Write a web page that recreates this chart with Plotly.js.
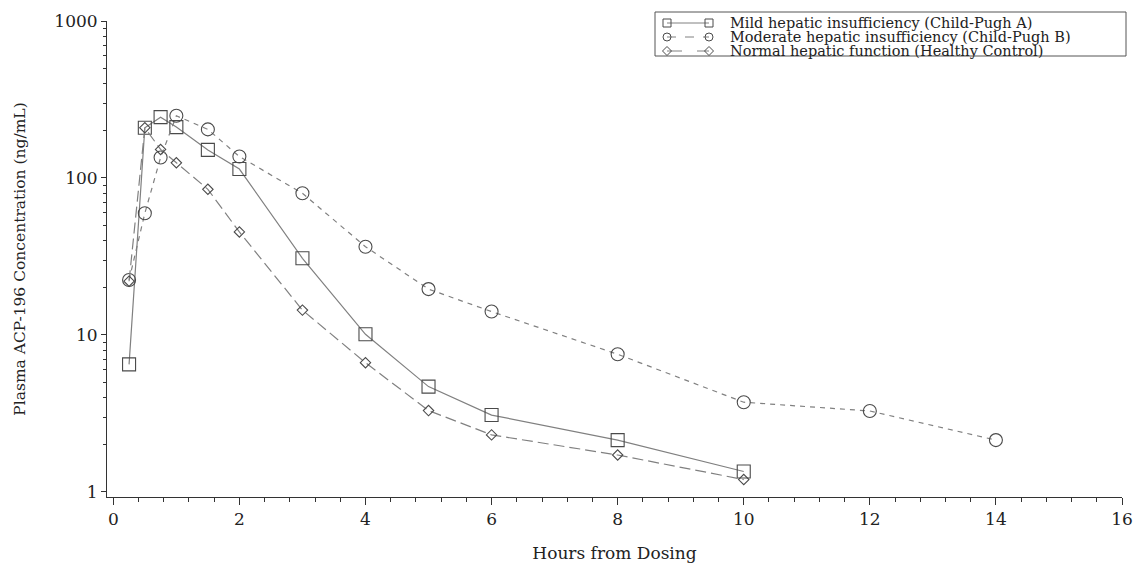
<!DOCTYPE html>
<html>
<head>
<meta charset="utf-8">
<script src="https://cdn.plot.ly/plotly-3.0.1.min.js"></script>
<style>html,body{margin:0;padding:0;background:#fff;}#chart{width:1133px;height:567px;}</style>
</head>
<body>
<div id="chart"></div>
<script>
// ---- data ----
const mildHours = [0.25, 0.5, 0.75, 1, 1.5, 2, 3, 4, 5, 6, 8, 10];
const mildConc = [6.5, 209, 244, 211, 151, 114, 30.8, 10.1, 4.69, 3.09, 2.14, 1.35];

const moderateHours = [0.25, 0.5, 0.75, 1, 1.5, 2, 3, 4, 5, 6, 8, 10, 12, 14];
const moderateConc = [22.4, 59.6, 135, 249, 204, 137, 79.9, 36.5, 19.6, 14.1, 7.54, 3.73, 3.28, 2.14];

const normalHours = [0.25, 0.5, 0.75, 1, 1.5, 2, 3, 4, 5, 6, 8, 10];
const normalConc = [22.0, 209, 152, 125, 84.7, 45.3, 14.4, 6.66, 3.30, 2.31, 1.72, 1.20];

const seriesNames = [
  'Mild hepatic insufficiency (Child-Pugh A)',
  'Moderate hepatic insufficiency (Child-Pugh B)',
  'Normal hepatic function (Healthy Control)'
];
const yTickVals = [1, 10, 100, 1000];
const yTickText = ['1', '10', '100', '1000'];
const yMinorVals = [2,3,4,5,6,7,8,9,20,30,40,50,60,70,80,90,200,300,400,500,600,700,800,900];
const xTitle = 'Hours from Dosing';
const yTitle = 'Plasma ACP-196 Concentration (ng/mL)';

// ---- layout constants ----
const FONT = 'DejaVu Serif';
const LINE_COL = '#808080';
const MARK_COL = '#4a4a4a';
const AX_COL = '#333333';
const M = {l: 107, r: 11, t: 21, b: 70};
const W = 1133 - M.l - M.r, H = 567 - M.t - M.b;
const px = v => (v - M.l) / W;
const py = v => (567 - M.b - v) / H;

const traces = [
  {x: mildHours, y: mildConc, name: seriesNames[0], type: 'scatter', mode: 'lines+markers',
   line: {color: LINE_COL, width: 1.2, dash: 'solid'},
   marker: {symbol: 'square-open', size: 13, color: MARK_COL, line: {width: 1.1, color: MARK_COL}}},
  {x: moderateHours, y: moderateConc, name: seriesNames[1], type: 'scatter', mode: 'lines+markers',
   line: {color: LINE_COL, width: 1.2, dash: '5px,5px'},
   marker: {symbol: 'circle-open', size: 13, color: MARK_COL, line: {width: 1.1, color: MARK_COL}}},
  {x: normalHours, y: normalConc, name: seriesNames[2], type: 'scatter', mode: 'lines+markers',
   line: {color: LINE_COL, width: 1.2, dash: '11px,5px'},
   marker: {symbol: 'diamond-open', size: 8, color: MARK_COL, line: {width: 1.1, color: MARK_COL}}}
];

// ---- custom legend (box, samples, text) ----
const legBox = {x0: 655, x1: 1126, y0: 12, y1: 56};
const rowY = [23, 37, 51];
const sampleX0 = 667, sampleX1 = 709, textX = 728;
const dashes = ['solid', 'dash', 'longdash'];
const shapes = [{type: 'rect', xref: 'paper', yref: 'paper', x0: px(legBox.x0), x1: px(legBox.x1),
  y0: py(legBox.y1), y1: py(legBox.y0), line: {color: '#555', width: 1}, fillcolor: 'rgba(255,255,255,1)', layer: 'above'}];
const annotations = [];
function sym(kind, cx, cy) {
  const r = 4;
  const base = {xref: 'paper', yref: 'paper', line: {color: MARK_COL, width: 1}, layer: 'above'};
  if (kind === 0) return Object.assign({type: 'rect', x0: px(cx - r), x1: px(cx + r), y0: py(cy + r), y1: py(cy - r)}, base);
  if (kind === 1) return Object.assign({type: 'circle', x0: px(cx - r), x1: px(cx + r), y0: py(cy + r), y1: py(cy - r)}, base);
  const d = 4.5;
  return Object.assign({type: 'path', path: `M ${px(cx - d)} ${py(cy)} L ${px(cx)} ${py(cy - d)} L ${px(cx + d)} ${py(cy)} L ${px(cx)} ${py(cy + d)} Z`}, base);
}
for (let i = 0; i < 3; i++) {
  shapes.push({type: 'line', xref: 'paper', yref: 'paper', x0: px(sampleX0), x1: px(sampleX1),
    y0: py(rowY[i]), y1: py(rowY[i]), line: {color: LINE_COL, width: 1, dash: dashes[i]}, layer: 'above'});
  shapes.push(sym(i, sampleX0, rowY[i]));
  shapes.push(sym(i, sampleX1, rowY[i]));
  annotations.push({xref: 'paper', yref: 'paper', x: px(textX), y: py(rowY[i]), xanchor: 'left', yanchor: 'middle',
    text: seriesNames[i], showarrow: false, font: {family: FONT, size: 14.5, color: '#222'}});
}

const layout = {
  width: 1133, height: 567,
  margin: M,
  paper_bgcolor: '#fff', plot_bgcolor: '#fff',
  showlegend: false,
  font: {family: FONT, size: 17, color: '#222'},
  xaxis: {
    range: [-0.1, 16], tickmode: 'linear', tick0: 0, dtick: 2,
    showgrid: false, zeroline: false, showline: true, linecolor: AX_COL, linewidth: 1,
    ticks: 'outside', ticklen: 7, tickcolor: AX_COL, tickwidth: 1,
    minor: {dtick: 0.4, tick0: 0, ticks: 'outside', ticklen: 4, tickcolor: AX_COL, showgrid: false},
    tickfont: {family: FONT, size: 17, color: '#222'},
    title: {text: xTitle, font: {family: FONT, size: 17, color: '#222'}, standoff: 18},
    automargin: false
  },
  yaxis: {
    type: 'log', range: [-0.032, 3],
    tickmode: 'array', tickvals: yTickVals, ticktext: yTickText,
    showgrid: false, zeroline: false, showline: true, linecolor: AX_COL, linewidth: 1,
    ticks: 'outside', ticklen: 5, tickcolor: AX_COL, tickwidth: 1,
    minor: {tickmode: 'array', tickvals: yMinorVals, ticks: 'outside', ticklen: 3, tickcolor: AX_COL, showgrid: false},
    tickfont: {family: FONT, size: 17, color: '#222'},
    title: {text: yTitle, font: {family: FONT, size: 15.5, color: '#222'}, standoff: 24},
    automargin: false
  },
  shapes: shapes,
  annotations: annotations
};

Plotly.newPlot('chart', traces, layout, {displayModeBar: false, staticPlot: true});
</script>
</body>
</html>
